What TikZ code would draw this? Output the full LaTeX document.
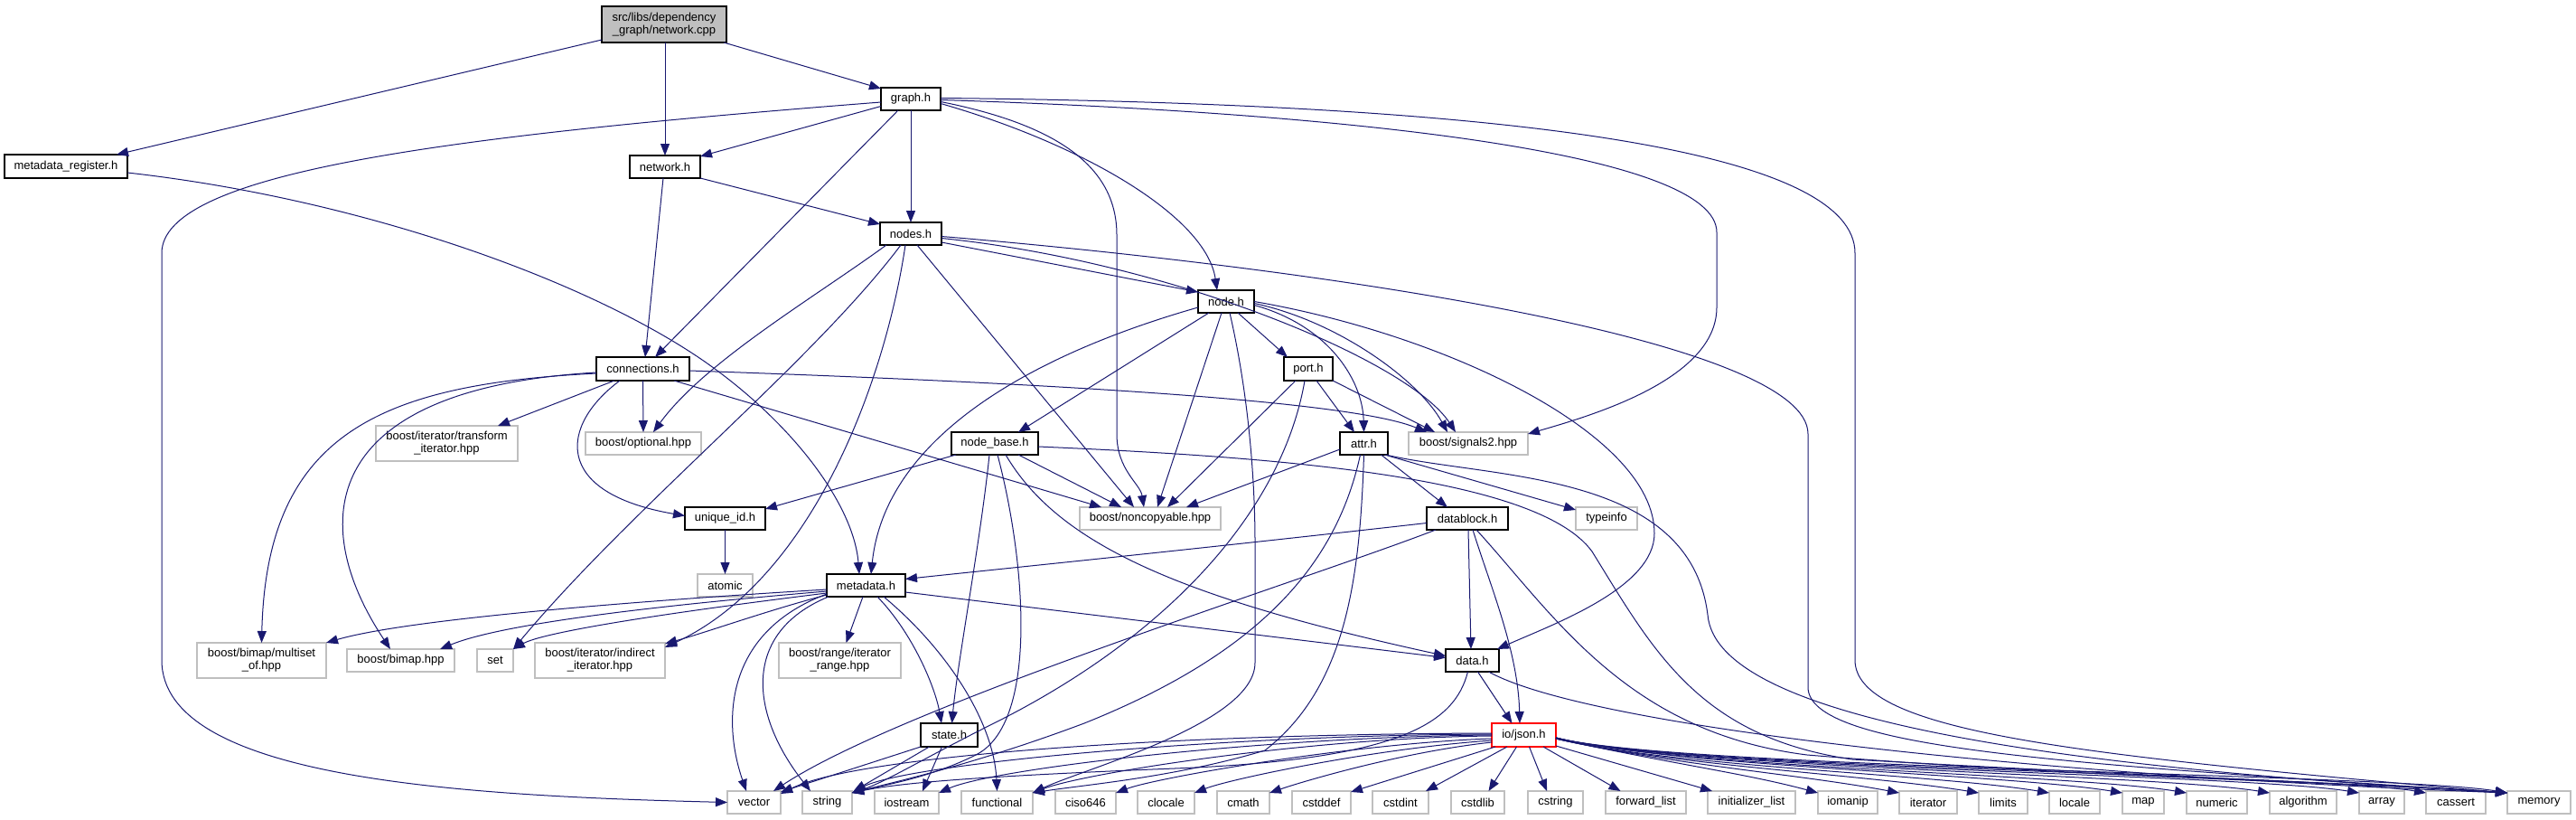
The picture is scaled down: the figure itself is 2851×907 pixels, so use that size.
\documentclass[tikz,border=0pt]{standalone}
\usepackage{fontspec}
\setmainfont{Liberation Sans}
\usetikzlibrary{arrows.meta}
\definecolor{edgec}{RGB}{25,25,112}
\definecolor{gbord}{RGB}{191,191,191}
\definecolor{rootfill}{RGB}{191,191,191}
\tikzset{
 basebox/.style={draw, rectangle, inner sep=0pt, outer sep=0pt, font=\fontsize{13}{14}\selectfont, align=center, text=black},
 inbox/.style={basebox, draw=black, line width=1.2pt},
 extbox/.style={basebox, draw=gbord, line width=1.2pt},
 rootbox/.style={basebox, draw=black, fill=rootfill, line width=1.2pt},
 truncbox/.style={basebox, draw=red, line width=1.2pt},
 e/.style={draw=edgec, line width=1pt, -{Triangle[length=13pt,width=10pt]}},
}
\newcommand{\bx}[7]{\node[#6, minimum width={(#4)-(#2)}, minimum height={(#5)-(#3)}] (#1) at ({((#2)+(#4))/2},{((#3)+(#5))/2}) {#7};}
\begin{document}
\begin{tikzpicture}[x=1pt,y=-1pt]
\useasboundingbox (0,0) rectangle (2851,907);
% nodes
\bx{root}{666}{7}{804}{47}{rootbox}{src/libs/dependency\\\_graph/network.cpp}
\bx{mreg}{5}{171}{141}{197}{inbox}{metadata\_register.h}
\bx{net}{697}{172}{775}{197}{inbox}{network.h}
\bx{graph}{975}{97}{1041}{122}{inbox}{graph.h}
\bx{nds}{974}{246}{1042}{271}{inbox}{nodes.h}
\bx{conn}{660}{395}{763}{421}{inbox}{connections.h}
\bx{nde}{1326}{321}{1388}{346}{inbox}{node.h}
\bx{trans}{416}{471}{573}{510}{extbox}{boost/iterator/transform\\\_iterator.hpp}
\bx{opt}{648}{478}{776}{503}{extbox}{boost/optional.hpp}
\bx{nbase}{1053}{478}{1149}{503}{inbox}{node\_base.h}
\bx{port}{1421}{395}{1475}{421}{inbox}{port.h}
\bx{attr}{1483}{478}{1536}{503}{inbox}{attr.h}
\bx{sig}{1559}{478}{1691}{503}{extbox}{boost/signals2.hpp}
\bx{uid}{758}{561}{847}{586}{inbox}{unique\_id.h}
\bx{nonc}{1195}{561}{1351}{586}{extbox}{boost/noncopyable.hpp}
\bx{dblock}{1579}{561}{1669}{586}{inbox}{datablock.h}
\bx{tinfo}{1744}{561}{1812}{586}{extbox}{typeinfo}
\bx{atomic}{772}{635}{833}{660}{extbox}{atomic}
\bx{meta}{915}{635}{1002}{660}{inbox}{metadata.h}
\bx{mset}{218}{711}{361}{750}{extbox}{boost/bimap/multiset\\\_of.hpp}
\bx{bimap}{384}{718}{503}{743}{extbox}{boost/bimap.hpp}
\bx{setn}{528}{718}{568}{743}{extbox}{set}
\bx{indir}{592}{711}{736}{750}{extbox}{boost/iterator/indirect\\\_iterator.hpp}
\bx{range}{862}{711}{997}{750}{extbox}{boost/range/iterator\\\_range.hpp}
\bx{data}{1600}{718}{1659}{743}{inbox}{data.h}
\bx{state}{1019}{800}{1082}{826}{inbox}{state.h}
\bx{json}{1651}{800}{1722}{826}{truncbox}{io/json.h}
\bx{vec}{805}{875}{864}{900}{extbox}{vector}
\bx{str}{888}{875}{943}{900}{extbox}{string}
\bx{iost}{968}{875}{1039}{900}{extbox}{iostream}
\bx{func}{1064}{875}{1143}{900}{extbox}{functional}
\bx{ciso}{1168}{875}{1235}{900}{extbox}{ciso646}
\bx{cloc}{1259}{875}{1322}{900}{extbox}{clocale}
\bx{cmath}{1347}{875}{1405}{900}{extbox}{cmath}
\bx{cstdd}{1430}{875}{1495}{900}{extbox}{cstddef}
\bx{cstdi}{1519}{875}{1581}{900}{extbox}{cstdint}
\bx{cstdl}{1606}{875}{1665}{900}{extbox}{cstdlib}
\bx{cstr}{1691}{875}{1752}{900}{extbox}{cstring}
\bx{flist}{1777}{875}{1866}{900}{extbox}{forward\_list}
\bx{ilist}{1890}{875}{1987}{900}{extbox}{initializer\_list}
\bx{ioman}{2012}{875}{2078}{900}{extbox}{iomanip}
\bx{iter}{2102}{875}{2166}{900}{extbox}{iterator}
\bx{limits}{2190}{875}{2244}{900}{extbox}{limits}
\bx{locale}{2268}{875}{2324}{900}{extbox}{locale}
\bx{mapn}{2349}{875}{2395}{900}{extbox}{map}
\bx{numeric}{2420}{875}{2487}{900}{extbox}{numeric}
\bx{algo}{2512}{875}{2586}{900}{extbox}{algorithm}
\bx{array}{2611}{875}{2661}{900}{extbox}{array}
\bx{cassert}{2685}{875}{2751}{900}{extbox}{cassert}
\bx{memory}{2775}{875}{2845}{900}{extbox}{memory}
% root
\draw[e] ([yshift=3pt]root.south west) -- ([xshift=-12pt]mreg.north east);
\draw[e] (root.south -| net.north) -- (net.north);
\draw[e] ([xshift=-3pt]root.south east) -- ([yshift=-1pt]graph.north west);
% graph
\draw[e] ([yshift=-8pt]graph.west) -- ([yshift=-1pt]net.north east);
\draw[e] ([xshift=-14pt]graph.south) -- ([xshift=13.5pt]conn.north);
\draw[e] (graph.south) -- (nds.north);
\draw[e] ([yshift=-5pt]graph.east) .. controls (1200,160) and (1335,240) .. ([xshift=-10pt]nde.north);
\draw[e] ([yshift=-3pt]graph.east) .. controls (1180,140) and (1236,190) .. (1236,260) -- (1236,480) .. controls (1236,520) and (1262,535) .. ([xshift=-7pt]nonc.north);
\draw[e] ([yshift=-1pt]graph.east) .. controls (1500,125) and (1900,170) .. (1900,257) -- (1900,340) .. controls (1900,420) and (1760,460) .. ([yshift=-2pt]sig.north east);
\draw[e] ([yshift=1pt]graph.east) .. controls (1700,115) and (2053,170) .. (2053,280) -- (2053,730) .. controls (2053,810) and (2300,835) .. ([yshift=-2pt]memory.north west);
\draw[e] ([yshift=-3.5pt]graph.west) .. controls (500,150) and (179,190) .. (179,280) -- (179,730) .. controls (179,860) and (500,880) .. (vec.west);
% network
\draw[e] (net.south east) -- ([yshift=-2pt]nds.north west);
\draw[e] ([xshift=-2pt]net.south) -- ([xshift=2.5pt]conn.north);
% metadata_register
\draw[e] ([yshift=-7pt]mreg.east) .. controls (400,220) and (650,310) .. (780,400) .. controls (880,470) and (945,560) .. ([xshift=-7.5pt]meta.north);
% connections
\draw[e] ([xshift=-31.5pt]conn.south) -- ([xshift=-22pt]trans.north east);
\draw[e] (conn.south) -- (opt.north);
\draw[e] ([yshift=-2pt]conn.east) .. controls (1200,425) and (1500,445) .. ([xshift=20pt]sig.north west);
\draw[e] ([xshift=34.5pt]conn.south) -- ([xshift=-54pt]nonc.north);
\draw[e] ([xshift=-25.5pt]conn.south) .. controls (620,470) and (610,545) .. ([yshift=3pt]uid.west);
\draw[e] ([yshift=-5pt]conn.west) .. controls (420,425) and (295,480) .. (mset.north);
\draw[e] ([yshift=-4pt]conn.west) .. controls (350,430) and (340,580) .. ([xshift=-11.5pt]bimap.north);
% nodes
\draw[e] ([yshift=-9.5pt]nds.east) -- ([yshift=10.5pt]nde.west);
\draw[e] ([xshift=-27pt]nds.south) .. controls (900,330) and (780,400) .. ([xshift=11pt]opt.north);
\draw[e] ([xshift=-11pt]nds.south) .. controls (900,400) and (700,560) .. (setn.north east);
\draw[e] ([xshift=-6pt]nds.south) .. controls (980,420) and (900,640) .. ([yshift=-5pt]indir.north east);
\draw[e] ([xshift=7pt]nds.south) -- ([xshift=-18pt]nonc.north);
\draw[e] ([yshift=-5pt]nds.east) .. controls (1300,290) and (1560,400) .. ([xshift=52pt]sig.north west);
\draw[e] ([yshift=-3pt]nds.east) .. controls (1500,300) and (2001,380) .. (2001,480) -- (2001,760) .. controls (2001,830) and (2300,845) .. ([yshift=-2pt]memory.north west);
% node
\draw[e] ([xshift=-19pt]nde.south) -- ([xshift=26pt]nbase.north);
\draw[e] ([yshift=-6.5pt]nde.west) .. controls (1150,390) and (980,480) .. ([xshift=5.5pt]meta.north);
\draw[e] ([xshift=-5pt]nde.south) -- ([xshift=8pt]nonc.north);
\draw[e] ([xshift=4pt]nde.south) .. controls (1385,450) and (1389,550) .. (1389,600) -- (1389,733) .. controls (1389,800) and (1200,850) .. ([yshift=-2pt]func.north east);
\draw[e] ([xshift=13pt]nde.south) -- ([xshift=4pt]port.north west);
\draw[e] ([yshift=-4pt]nde.east) .. controls (1470,360) and (1508,420) .. (attr.north);
\draw[e] ([yshift=-2pt]nde.east) .. controls (1480,355) and (1570,420) .. ([xshift=43pt]sig.north west);
\draw[e] (nde.east) .. controls (1600,370) and (1831,480) .. (1831,590) .. controls (1831,650) and (1720,690) .. ([xshift=-2pt]data.north east);
% port
\draw[e] ([xshift=9pt]port.south) -- ([xshift=-10.5pt]attr.north);
\draw[e] (port.south east) -- ([xshift=29pt]sig.north west);
\draw[e] ([xshift=-14pt]port.south) -- ([xshift=19pt]nonc.north);
\draw[e] ([xshift=-4pt]port.south) .. controls (1420,560) and (1300,700) .. (1100,800) .. controls (1020,840) and (980,865) .. ([yshift=-2pt]str.north east);
% attr
\draw[e] ([yshift=-6.5pt]attr.west) -- ([xshift=40pt]nonc.north);
\draw[e] ([xshift=19pt]attr.south) -- ([xshift=-22pt]dblock.north);
\draw[e] ([xshift=23pt]attr.south) -- ([yshift=-3pt]tinfo.north west);
\draw[e] ([xshift=-4pt]attr.south) .. controls (1480,620) and (1400,720) .. (1200,800) .. controls (1080,845) and (990,865) .. ([yshift=-2pt]str.north east);
\draw[e] (attr.south) .. controls (1505,640) and (1490,760) .. (1400,830) .. controls (1300,860) and (1200,868) .. ([yshift=-2pt]func.north east);
\draw[e] ([xshift=24pt]attr.south) .. controls (1650,530) and (1870,520) .. (1890,680) .. controls (1900,800) and (2300,850) .. ([yshift=-2pt]memory.north west);
% node_base
\draw[e] ([xshift=-43pt]nbase.south) -- ([yshift=-2pt]uid.north east);
\draw[e] ([xshift=26pt]nbase.south) -- ([xshift=-32pt]nonc.north);
\draw[e] ([xshift=-6pt]nbase.south) .. controls (1085,600) and (1060,730) .. ([xshift=3pt]state.north);
\draw[e] ([xshift=3pt]nbase.south) .. controls (1135,620) and (1150,800) .. (1080,835) .. controls (1030,860) and (980,868) .. ([yshift=-2pt]str.north east);
\draw[e] ([xshift=12pt]nbase.south) .. controls (1170,600) and (1300,660) .. ([yshift=5pt]data.west);
\draw[e] ([yshift=-3.5pt]nbase.east) .. controls (1400,505) and (1700,525) .. (1762,610) .. controls (1830,720) and (1880,815) .. (2050,840) .. controls (2400,860) and (2650,868) .. ([yshift=-2pt]memory.north west);
% unique_id
\draw[e] (uid.south) -- (atomic.north);
% datablock
\draw[e] ([yshift=-5pt]dblock.west) .. controls (1300,610) and (1100,630) .. ([yshift=7pt]meta.east);
\draw[e] ([xshift=-35pt]dblock.south) .. controls (1450,640) and (1000,780) .. ([xshift=-8pt]vec.north east);
\draw[e] ([xshift=1pt]dblock.south) -- ([xshift=-1.5pt]data.north);
\draw[e] ([xshift=6pt]dblock.south) .. controls (1650,650) and (1680,720) .. ([xshift=-4.5pt]json.north);
\draw[e] ([xshift=10pt]dblock.south) .. controls (1720,680) and (1800,810) .. (2000,835) .. controls (2300,860) and (2600,865) .. ([yshift=-2pt]memory.north west);
% data
\draw[e] ([xshift=6pt]data.south) -- ([xshift=-13pt]json.north);
\draw[e] ([xshift=-5pt]data.south) .. controls (1610,800) and (1550,840) .. (1300,850) .. controls (1100,858) and (1000,865) .. ([yshift=-2pt]str.north east);
\draw[e] ([xshift=18pt]data.south) .. controls (1750,800) and (2200,855) .. ([yshift=-2pt]memory.north west);
% state
\draw[e] (state.south west) -- ([yshift=-1pt]vec.north east);
\draw[e] ([xshift=-22pt]state.south) -- ([xshift=2pt]str.north east);
\draw[e] ([xshift=-8pt]state.south) -- ([xshift=17.5pt]iost.north);
% metadata
\draw[e] ([yshift=-9.5pt]meta.west) .. controls (800,700) and (800,800) .. ([xshift=-8.5pt]vec.north);
\draw[e] ([xshift=2pt]meta.south west) .. controls (820,700) and (830,790) .. ([xshift=-18.5pt]str.north);
\draw[e] ([xshift=-3.5pt]meta.south) -- ([xshift=7pt]range.north);
\draw[e] ([xshift=12.5pt]meta.south) .. controls (1010,700) and (1035,760) .. ([xshift=-8.5pt]state.north);
\draw[e] ([xshift=19.5pt]meta.south) .. controls (1050,720) and (1100,800) .. (func.north);
\draw[e] ([yshift=-7.5pt]meta.east) -- ([yshift=3pt]data.west);
\draw[e] ([yshift=-4.5pt]meta.west) .. controls (700,665) and (450,685) .. (mset.north east);
\draw[e] ([yshift=-6.5pt]meta.west) .. controls (700,672) and (550,692) .. ([xshift=-16pt]bimap.north east);
\draw[e] ([yshift=-8.5pt]meta.west) .. controls (720,680) and (600,700) .. (setn.north east);
\draw[e] ([yshift=-10.5pt]meta.west) .. controls (850,675) and (780,700) .. ([yshift=-1pt]indir.north east);
% json left
\draw[e] ([yshift=2pt]json.west) .. controls (1300,812) and (950,835) .. ([yshift=-3pt]vec.north east);
\draw[e] ([yshift=1pt]json.west) .. controls (1350,813) and (1000,845) .. ([yshift=-2pt]str.north east);
\draw[e] (json.west) .. controls (1400,815) and (1100,850) .. ([yshift=-2pt]iost.north east);
\draw[e] ([yshift=-1pt]json.west) .. controls (1450,816) and (1200,855) .. ([yshift=-2pt]func.north east);
\draw[e] ([yshift=-4pt]json.west) .. controls (1500,822) and (1280,860) .. ([yshift=-2pt]ciso.north east);
\draw[e] ([yshift=-6pt]json.west) .. controls (1520,828) and (1360,862) .. ([yshift=-2pt]cloc.north east);
\draw[e] ([yshift=-8pt]json.west) .. controls (1550,832) and (1440,865) .. ([yshift=-2pt]cmath.north east);
\draw[e] ([xshift=4pt]json.south west) -- ([yshift=-1pt]cstdd.north east);
\draw[e] ([xshift=17pt]json.south west) -- ([xshift=-3pt]cstdi.north east);
\draw[e] ([xshift=-8pt]json.south) -- ([xshift=12pt]cstdl.north);
\draw[e] ([xshift=6pt]json.south) -- ([xshift=-9.5pt]cstr.north);
\draw[e] ([xshift=-14pt]json.south east) -- ([xshift=-28pt]flist.north);
\draw[e] ([yshift=1pt]json.south east) -- ([xshift=5pt]ilist.north west);
% json right
\draw[e] ([yshift=-4pt]json.east) .. controls (1850,845) and (1930,855) .. ([yshift=-2pt]ioman.north west);
\draw[e] ([yshift=-4pt]json.east) .. controls (1850,846) and (1990,856) .. ([yshift=-2pt]iter.north west);
\draw[e] ([yshift=-4pt]json.east) .. controls (1850,847) and (2060,856) .. ([yshift=-2pt]limits.north west);
\draw[e] ([yshift=-4pt]json.east) .. controls (1850,848) and (2140,856) .. ([yshift=-2pt]locale.north west);
\draw[e] ([yshift=-3pt]json.east) .. controls (1850,848) and (2220,856) .. ([yshift=-2pt]mapn.north west);
\draw[e] ([yshift=-3pt]json.east) .. controls (1850,849) and (2290,856) .. ([yshift=-2pt]numeric.north west);
\draw[e] ([yshift=-3pt]json.east) .. controls (1850,849) and (2380,856) .. ([yshift=-2pt]algo.north west);
\draw[e] ([yshift=-3pt]json.east) .. controls (1850,850) and (2480,856) .. ([yshift=-2pt]array.north west);
\draw[e] ([yshift=-3pt]json.east) .. controls (1850,850) and (2560,856) .. ([yshift=-2pt]cassert.north west);
\draw[e] ([yshift=-3pt]json.east) .. controls (1850,850) and (2650,856) .. ([yshift=-2pt]memory.north west);
\end{tikzpicture}
\end{document}
